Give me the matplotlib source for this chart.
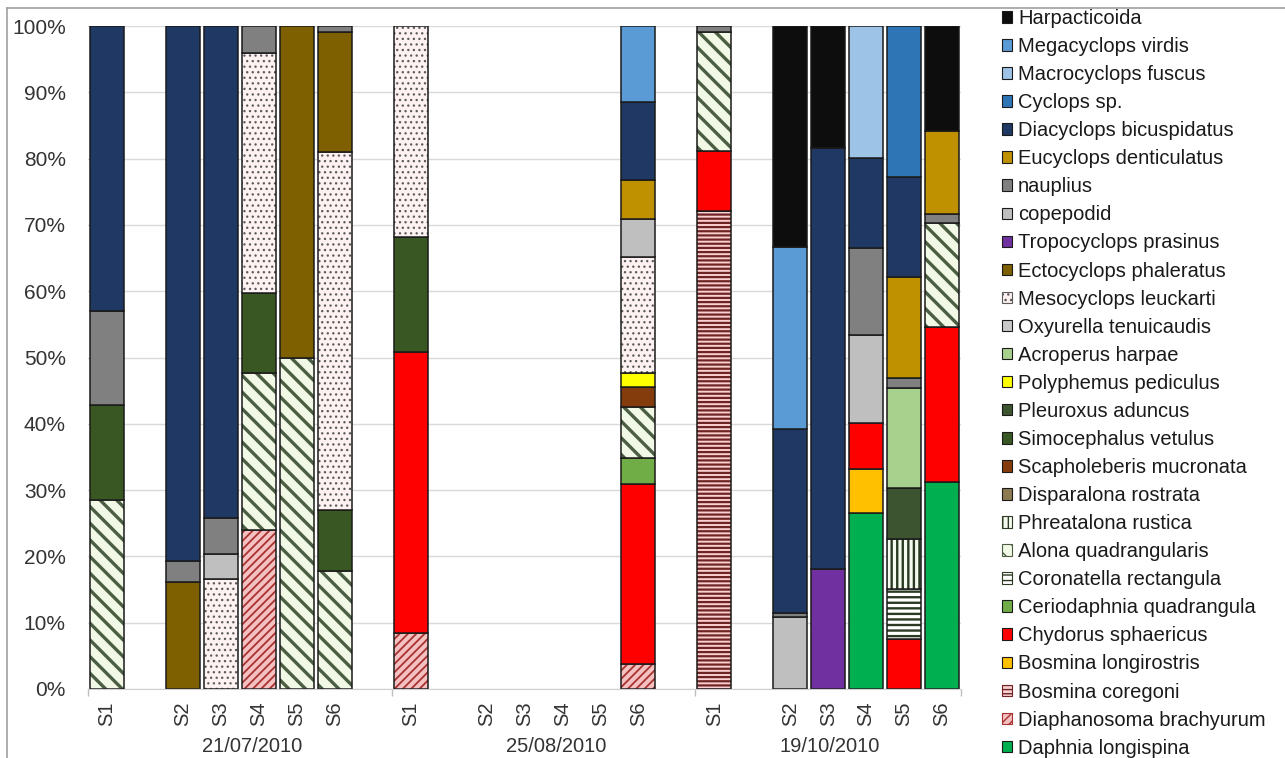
import numpy as np
import matplotlib as mpl
import matplotlib.pyplot as plt
from matplotlib.patches import Patch
from matplotlib.lines import Line2D
from matplotlib.transforms import blended_transform_factory

plt.rcParams['font.family'] = ['Liberation Sans', 'DejaVu Sans']

dates = ['21/07/2010', '25/08/2010', '19/10/2010']
sites = ['S1', 'S2', 'S3', 'S4', 'S5', 'S6']

# % of each taxon per sample: 21/07 S1..S6, 25/08 S1..S6, 19/10 S1..S6
daphnia_longispina = [0, 0, 0, 0, 0, 0,  0, 0, 0, 0, 0, 0,  0, 0, 0, 26.5, 0, 31.2]
diaphanosoma_brachyurum = [0, 0, 0, 24.0, 0, 0,  8.4, 0, 0, 0, 0, 3.8,  0, 0, 0, 0, 0, 0]
bosmina_coregoni = [0, 0, 0, 0, 0, 0,  0, 0, 0, 0, 0, 0,  72.1, 0, 0, 0, 0, 0]
bosmina_longirostris = [0, 0, 0, 0, 0, 0,  0, 0, 0, 0, 0, 0,  0, 0, 0, 6.7, 0, 0]
chydorus_sphaericus = [0, 0, 0, 0, 0, 0,  42.5, 0, 0, 0, 0, 27.1,  9.1, 0, 0, 6.9, 7.5, 23.4]
ceriodaphnia_quadrangula = [0, 0, 0, 0, 0, 0,  0, 0, 0, 0, 0, 3.9,  0, 0, 0, 0, 0, 0]
coronatella_rectangula = [0, 0, 0, 0, 0, 0,  0, 0, 0, 0, 0, 0,  0, 0, 0, 0, 7.6, 0]
alona_quadrangularis = [28.5, 0, 0, 23.7, 50.0, 17.8,  0, 0, 0, 0, 0, 7.7,  17.9, 0, 0, 0, 0, 15.7]
phreatalona_rustica = [0, 0, 0, 0, 0, 0,  0, 0, 0, 0, 0, 0,  0, 0, 0, 0, 7.5, 0]
disparalona_rostrata = [0, 0, 0, 0, 0, 0,  0, 0, 0, 0, 0, 0,  0, 0, 0, 0, 0, 0]
scapholeberis_mucronata = [0, 0, 0, 0, 0, 0,  0, 0, 0, 0, 0, 3.1,  0, 0, 0, 0, 0, 0]
simocephalus_vetulus = [14.3, 0, 0, 12.0, 0, 9.2,  17.3, 0, 0, 0, 0, 0,  0, 0, 0, 0, 0, 0]
pleuroxus_aduncus = [0, 0, 0, 0, 0, 0,  0, 0, 0, 0, 0, 0,  0, 0, 0, 0, 7.7, 0]
polyphemus_pediculus = [0, 0, 0, 0, 0, 0,  0, 0, 0, 0, 0, 2.0,  0, 0, 0, 0, 0, 0]
acroperus_harpae = [0, 0, 0, 0, 0, 0,  0, 0, 0, 0, 0, 0,  0, 0, 0, 0, 15.1, 0]
oxyurella_tenuicaudis = [0, 0, 0, 0, 0, 0,  0, 0, 0, 0, 0, 0,  0, 0, 0, 0, 0, 0]
mesocyclops_leuckarti = [0, 0, 16.6, 36.2, 0, 54.0,  31.8, 0, 0, 0, 0, 17.5,  0, 0, 0, 0, 0, 0]
ectocyclops_phaleratus = [0, 16.1, 0, 0, 50.0, 18.1,  0, 0, 0, 0, 0, 0,  0, 0, 0, 0, 0, 0]
tropocyclops_prasinus = [0, 0, 0, 0, 0, 0,  0, 0, 0, 0, 0, 0,  0, 0, 18.1, 0, 0, 0]
copepodid = [0, 0, 3.8, 0, 0, 0,  0, 0, 0, 0, 0, 5.8,  0, 10.9, 0, 13.3, 0, 0]
nauplius = [14.2, 3.2, 5.4, 4.1, 0, 0.9,  0, 0, 0, 0, 0, 0,  0.9, 0.6, 0, 13.1, 1.5, 1.4]
eucyclops_denticulatus = [0, 0, 0, 0, 0, 0,  0, 0, 0, 0, 0, 5.9,  0, 0, 0, 0, 15.2, 12.5]
diacyclops_bicuspidatus = [43.0, 80.7, 74.2, 0, 0, 0,  0, 0, 0, 0, 0, 11.7,  0, 27.7, 63.5, 13.6, 15.1, 0]
cyclops_sp = [0, 0, 0, 0, 0, 0,  0, 0, 0, 0, 0, 0,  0, 0, 0, 0, 22.8, 0]
macrocyclops_fuscus = [0, 0, 0, 0, 0, 0,  0, 0, 0, 0, 0, 0,  0, 0, 0, 19.9, 0, 0]
megacyclops_virdis = [0, 0, 0, 0, 0, 0,  0, 0, 0, 0, 0, 11.5,  0, 27.5, 0, 0, 0, 0]
harpacticoida = [0, 0, 0, 0, 0, 0,  0, 0, 0, 0, 0, 0,  0, 33.3, 18.4, 0, 0, 15.8]

# bottom of the stack first
series = [
    ('Daphnia longispina', daphnia_longispina),
    ('Diaphanosoma brachyurum', diaphanosoma_brachyurum),
    ('Bosmina coregoni', bosmina_coregoni),
    ('Bosmina longirostris', bosmina_longirostris),
    ('Chydorus sphaericus', chydorus_sphaericus),
    ('Ceriodaphnia quadrangula', ceriodaphnia_quadrangula),
    ('Coronatella rectangula', coronatella_rectangula),
    ('Alona quadrangularis', alona_quadrangularis),
    ('Phreatalona rustica', phreatalona_rustica),
    ('Disparalona rostrata', disparalona_rostrata),
    ('Scapholeberis mucronata', scapholeberis_mucronata),
    ('Simocephalus vetulus', simocephalus_vetulus),
    ('Pleuroxus aduncus', pleuroxus_aduncus),
    ('Polyphemus pediculus', polyphemus_pediculus),
    ('Acroperus harpae', acroperus_harpae),
    ('Oxyurella tenuicaudis', oxyurella_tenuicaudis),
    ('Mesocyclops leuckarti', mesocyclops_leuckarti),
    ('Ectocyclops phaleratus', ectocyclops_phaleratus),
    ('Tropocyclops prasinus', tropocyclops_prasinus),
    ('copepodid', copepodid),
    ('nauplius', nauplius),
    ('Eucyclops denticulatus', eucyclops_denticulatus),
    ('Diacyclops bicuspidatus', diacyclops_bicuspidatus),
    ('Cyclops sp.', cyclops_sp),
    ('Macrocyclops fuscus', macrocyclops_fuscus),
    ('Megacyclops virdis', megacyclops_virdis),
    ('Harpacticoida', harpacticoida),
]

# face colour, hatch, hatch colour, hatch line width
styles = {
    'Daphnia longispina': ('#00B050', None, None, 0),
    'Diaphanosoma brachyurum': ('#F5C0C0', '////', '#A83232', 1.3),
    'Bosmina coregoni': ('#FAD0D0', '----', '#6E2424', 1.6),
    'Bosmina longirostris': ('#FFC000', None, None, 0),
    'Chydorus sphaericus': ('#FF0000', None, None, 0),
    'Ceriodaphnia quadrangula': ('#70AD47', None, None, 0),
    'Coronatella rectangula': ('#FFFFFF', '---', '#2B3A22', 1.7),
    'Alona quadrangularis': ('#F1F8E6', '\\\\', '#4B5E42', 2.4),
    'Phreatalona rustica': ('#F4FAEE', '|||', '#2B3A22', 1.7),
    'Disparalona rostrata': ('#8C7A50', None, None, 0),
    'Scapholeberis mucronata': ('#843C0C', None, None, 0),
    'Simocephalus vetulus': ('#385723', None, None, 0),
    'Pleuroxus aduncus': ('#3C5530', None, None, 0),
    'Polyphemus pediculus': ('#FFFF00', None, None, 0),
    'Acroperus harpae': ('#A9D18E', None, None, 0),
    'Oxyurella tenuicaudis': ('#C9C9C9', None, None, 0),
    'Mesocyclops leuckarti': ('#FDF1F1', '...', '#5A5A5A', 0.9),
    'Ectocyclops phaleratus': ('#7F6000', None, None, 0),
    'Tropocyclops prasinus': ('#7030A0', None, None, 0),
    'copepodid': ('#BFBFBF', None, None, 0),
    'nauplius': ('#808080', None, None, 0),
    'Eucyclops denticulatus': ('#BF9000', None, None, 0),
    'Diacyclops bicuspidatus': ('#1F3864', None, None, 0),
    'Cyclops sp.': ('#2E75B6', None, None, 0),
    'Macrocyclops fuscus': ('#9DC3E6', None, None, 0),
    'Megacyclops virdis': ('#5B9BD5', None, None, 0),
    'Harpacticoida': ('#0D0D0D', None, None, 0),
}

edge = '#1A1A1A'
txt = '#333333'

fig = plt.figure(figsize=(12.85, 7.58), dpi=100)
ax = fig.add_axes([88 / 1285, 1 - 689 / 758, 873 / 1285, 663 / 758])

offsets = [0, 2, 3, 4, 5, 6]
x = np.array([g * 8 + o for g in range(len(dates)) for o in offsets])
width = 0.89

bottom = np.zeros(len(x))
handles = []
for name, vals in series:
    vals = np.array(vals, dtype=float)
    m = vals > 0
    face, hatch, hcol, hlw = styles[name]
    if hatch is None:
        ax.bar(x[m], vals[m], width, bottom=bottom[m], color=face, edgecolor=edge, linewidth=1.1)
        handles.append(Patch(facecolor=face, edgecolor=edge, linewidth=0.8, label=name))
    else:
        # hatch line width is picked up when the patch is made
        with mpl.rc_context({'hatch.linewidth': hlw}):
            ax.bar(x[m], vals[m], width, bottom=bottom[m], color=face, edgecolor=hcol,
                   hatch=hatch, linewidth=0)
            h = Patch(facecolor=face, edgecolor=hcol, hatch=hatch, linewidth=0.8, label=name)
        ax.bar(x[m], vals[m], width, bottom=bottom[m], fill=False, edgecolor=edge, linewidth=1.1)
        handles.append(h)
    bottom += vals

ax.set_xlim(-0.5, 22.5)
ax.set_ylim(0, 100)
ax.set_yticks(np.arange(0, 101, 10))
ax.set_yticklabels([f'{v}%' for v in range(0, 101, 10)])
ax.set_xticks(x)
ax.set_xticklabels(sites * len(dates), rotation=90)
ax.set_xticks([-0.5, 7.5, 15.5, 22.5], minor=True)
ax.tick_params(axis='y', length=0, pad=16, labelsize=15, labelcolor=txt)
ax.tick_params(axis='x', which='major', length=0, pad=9, labelsize=14.5, labelcolor=txt)
ax.tick_params(axis='x', which='minor', length=5, color='#BFBFBF', width=1)
for s in ['top', 'right', 'left']:
    ax.spines[s].set_visible(False)
ax.spines['bottom'].set_color('#D0D0D0')
ax.yaxis.grid(True, color='#D9D9D9', linewidth=1)
ax.set_axisbelow(True)

trans = blended_transform_factory(ax.transData, ax.transAxes)
for d, gx in zip(dates, [3.82, 11.83, 19.05]):
    ax.text(gx, -0.086, d, transform=trans, ha='center', va='center', fontsize=14.5, color=txt)

fig.legend(handles[::-1], [h.get_label() for h in handles[::-1]], loc='upper left',
           bbox_to_anchor=(1002 / 1285, 1 - 9 / 758), frameon=False, fontsize=14.5,
           handlelength=0.5, handleheight=0.5, handletextpad=0.3, labelspacing=0.45,
           borderpad=0, borderaxespad=0, labelcolor='#1A1A1A')

# chart area border
fig.add_artist(Line2D([7 / 1285, 1], [1 - 8 / 758, 1 - 8 / 758], color='#A0A0A0', linewidth=1.2))
fig.add_artist(Line2D([7 / 1285, 7 / 1285], [0, 1 - 8 / 758], color='#A0A0A0', linewidth=1.2))

fig.savefig('out.png', dpi=100)
